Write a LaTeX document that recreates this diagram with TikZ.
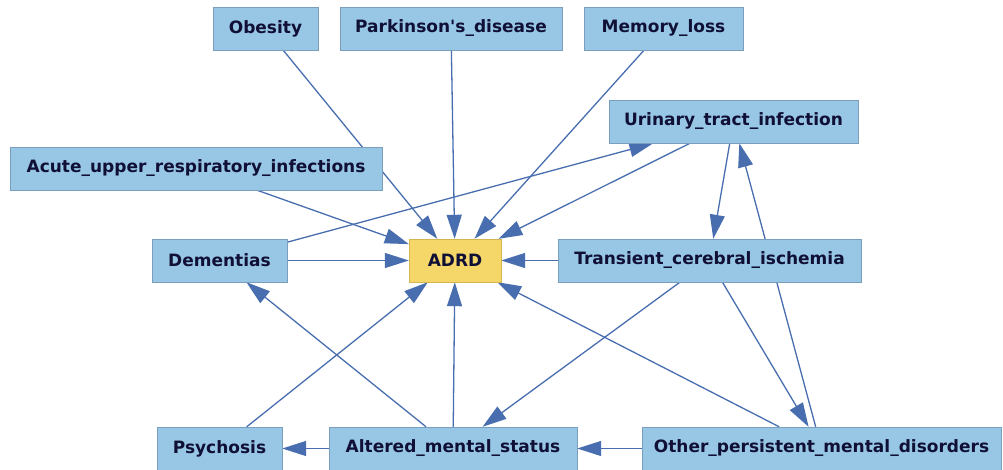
\documentclass[tikz,border=0pt]{standalone}
\usepackage{fontspec}
\setmainfont{DejaVu Sans}
\usetikzlibrary{arrows.meta, positioning, backgrounds}

\definecolor{factorFill}{RGB}{152,199,230}
\definecolor{factorLine}{RGB}{122,158,190}
\definecolor{outcomeFill}{RGB}{245,214,104}
\definecolor{outcomeLine}{RGB}{212,182,80}
\definecolor{edgeBlue}{RGB}{72,110,176}
\definecolor{labelText}{RGB}{16,16,54}

\begin{document}
\begin{tikzpicture}[
    x=1pt, y=-1pt,
    factor/.style = {
        draw=factorLine,
        fill=factorFill,
        rectangle,
        minimum height=43pt,
        inner sep=0pt,
        text=labelText,
        font=\bfseries\fontsize{17}{20}\selectfont,
    },
    outcome/.style = {
        factor,
        draw=outcomeLine,
        fill=outcomeFill,
    },
    causes/.style = {
        draw=edgeBlue,
        line width=1.3pt,
        -{Triangle[length=24pt, width=15pt]},
    },
]
\useasboundingbox (0,0) rectangle (1003,470);

% top row
\node(Obesity)[factor, minimum width=105pt] at (265.5,28.5) {Obesity};
\node(Parkinson)[factor, minimum width=222pt] at (451,28.5) {Parkinson\textquotesingle s\_disease};
\node(Memory)[factor, minimum width=159pt] at (663.5,28.5) {Memory\_loss};

\node(Urinary)[factor, minimum width=249pt] at (733.5,121.5) {Urinary\_tract\_infection};
\node(Acute)[factor, minimum width=372pt] at (196,168.5) {Acute\_upper\_respiratory\_infections};

% middle row
\node(Dementias)[factor, minimum width=135pt] at (219.5,260.5) {Dementias};
\node(ADRD)[outcome, minimum width=92pt] at (455,260.5) {ADRD};
\node(Transient)[factor, minimum width=303pt] at (709.5,260.5) {Transient\_cerebral\_ischemia};

% bottom row
\node(Psychosis)[factor, minimum width=125pt] at (219.5,448.5) {Psychosis};
\node(Altered)[factor, minimum width=248pt] at (453,448.5) {Altered\_mental\_status};
\node(Other)[factor, minimum width=359pt] at (821.5,448.5) {Other\_persistent\_mental\_disorders};

\begin{scope}[on background layer]
\draw[causes] (Obesity) -- (ADRD);
\draw[causes] (Parkinson) -- (ADRD);
\draw[causes] (Memory) -- (ADRD);
\draw[causes] (Acute) -- (ADRD);
\draw[causes] (Urinary) -- (ADRD);
\draw[causes] (Dementias) -- (ADRD);
\draw[causes] (Transient) -- (ADRD);
\draw[causes] (Psychosis) -- (ADRD);
\draw[causes] (Altered) -- (ADRD);
\draw[causes] (Other) -- (ADRD);

\draw[causes] (Dementias) -- (Urinary);
\draw[causes] (Urinary) -- (Transient);
\draw[causes] (Other) -- (Urinary);
\draw[causes] (Transient) -- (Other);
\draw[causes] (Transient) -- (Altered);

\draw[causes] (Altered) -- (Dementias);
\draw[causes] (Altered) -- (Psychosis);
\draw[causes] (Other) -- (Altered);
\end{scope}

\end{tikzpicture}
\end{document}
